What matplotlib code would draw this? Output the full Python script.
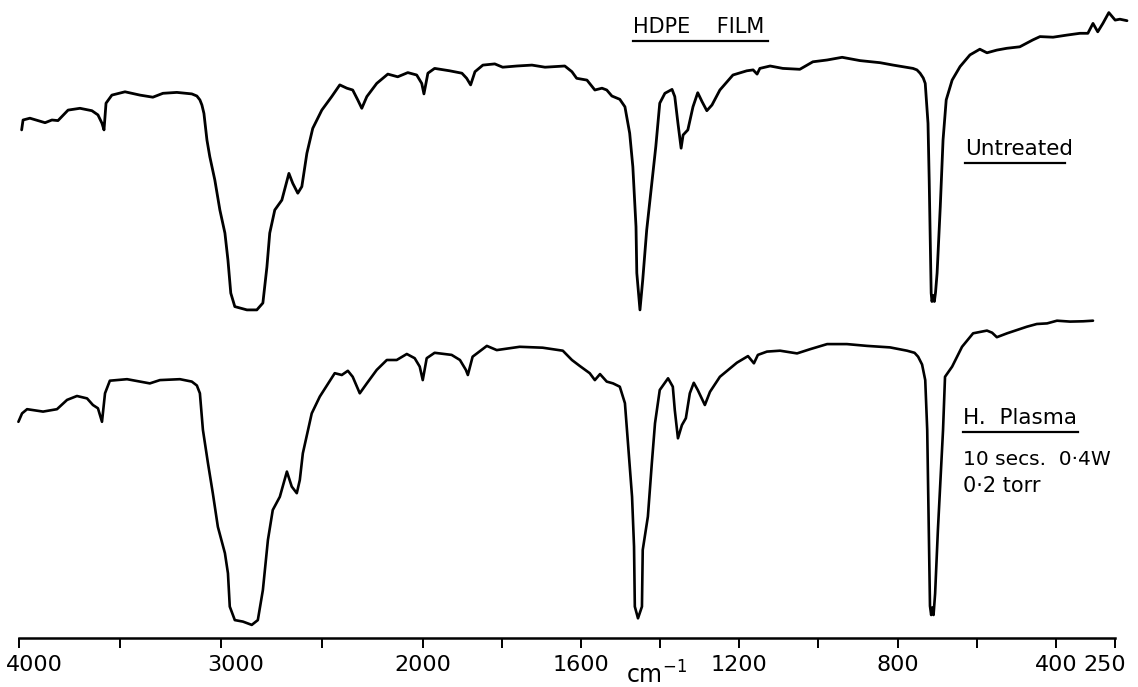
import numpy as np
import matplotlib
matplotlib.use("Agg")
from matplotlib import pyplot as plt
from matplotlib.lines import Line2D
from matplotlib.transforms import ScaledTranslation

# wavenumber (cm-1) / transmittance readings, untreated film
wn_untreated = [3987, 3980, 3946, 3871, 3837, 3807, 3757, 3698, 3639, 3609, 3589, 3579, 3569, 3540,
                3475, 3401, 3337, 3287, 3218, 3144, 3119, 3104, 3094, 3084, 3069, 3055, 3030, 3005,
                2980, 2965, 2951, 2931, 2871, 2822, 2792, 2772, 2758, 2733, 2698, 2663, 2644, 2619,
                2599, 2574, 2545, 2500, 2451, 2411, 2376, 2347, 2322, 2302, 2277, 2228, 2173, 2124,
                2074, 2030, 2005, 1997, 1987, 1970, 1932, 1901, 1889, 1879, 1868, 1848, 1818, 1798,
                1762, 1724, 1691, 1641, 1623, 1611, 1585, 1565, 1547, 1535, 1522, 1502, 1489, 1477,
                1469, 1461, 1459, 1451, 1444, 1434, 1423, 1411, 1401, 1388, 1370, 1363, 1355, 1347,
                1342, 1330, 1317, 1305, 1294, 1282, 1269, 1249, 1216, 1181, 1165, 1155, 1148, 1122,
                1090, 1047, 1014, 978, 940, 895, 844, 811, 761, 751, 743, 735, 730, 723, 720, 715,
                713, 710, 707, 704, 700, 692, 685, 677, 662, 642, 617, 592, 574, 549, 524, 491,
                458, 440, 407, 372, 339, 319, 306, 294, 281, 266, 250, 238, 220]
t_untreated = [62.7, 66.0, 66.6, 65.1, 66.0, 65.8, 69.3, 69.9, 69.1, 67.7, 64.9, 62.7, 71.6, 74.3,
               75.4, 74.3, 73.6, 74.9, 75.2, 74.7, 74.0, 72.7, 71.0, 68.2, 59.3, 53.8, 46.0, 36.0,
               28.3, 19.3, 8.3, 3.8, 2.7, 2.7, 5.0, 17.0, 28.3, 36.0, 39.3, 48.2, 44.9, 41.6,
               43.8, 54.9, 63.2, 69.3, 73.8, 77.7, 76.6, 76.0, 72.7, 69.9, 73.8, 78.2, 81.3, 80.4,
               81.8, 81.0, 78.2, 74.7, 81.6, 83.2, 82.4, 81.6, 79.9, 77.7, 82.1, 84.3, 84.7, 83.6,
               84.0, 84.3, 83.6, 84.0, 82.1, 79.9, 79.3, 76.0, 76.6, 76.0, 74.0, 72.9, 70.4, 61.6,
               50.4, 30.4, 15.0, 2.7, 12.7, 29.3, 42.7, 57.1, 71.6, 74.9, 76.2, 73.8, 64.9, 56.6,
               61.0, 62.7, 70.4, 75.1, 72.1, 69.1, 71.0, 76.0, 81.0, 82.4, 82.7, 81.3, 83.2, 84.0,
               83.2, 82.9, 85.4, 86.0, 86.9, 85.8, 85.1, 84.3, 83.2, 82.7, 81.6, 80.0, 78.2, 64.9, 46.0, 8.3,
               5.5, 7.5, 5.5, 8.5, 15.0, 37.1, 59.3, 72.7, 79.3, 83.8, 87.7, 89.6, 88.4, 89.3, 89.9, 90.4,
               92.7, 93.8, 93.6, 94.3, 94.9, 94.9, 98.2, 95.4, 98.2, 101.8, 99.3, 99.6, 99.1]

# H plasma treated film (10 s, 0.4 W, 0.2 torr)
wn_plasma = [4003, 3985, 3960, 3881, 3812, 3762, 3713, 3663, 3634, 3609, 3589, 3574, 3550, 3465,
             3352, 3302, 3203, 3144, 3119, 3104, 3089, 3064, 3040, 3015, 2980, 2965, 2956, 2931, 2891,
             2847, 2817, 2792, 2767, 2743, 2708, 2673, 2649, 2624, 2609, 2594, 2550, 2510, 2436,
             2401, 2371, 2347, 2312, 2277, 2228, 2178, 2129, 2079, 2040, 2015, 2000, 1990, 1970,
             1927, 1906, 1891, 1886, 1874, 1838, 1813, 1755, 1697, 1646, 1623, 1603, 1578, 1565,
             1552, 1535, 1519, 1502, 1489, 1482, 1471, 1466, 1464, 1456, 1446, 1444, 1431, 1421,
             1413, 1401, 1380, 1368, 1363, 1355, 1345, 1335, 1325, 1315, 1305, 1287, 1274, 1249,
             1206, 1178, 1163, 1153, 1130, 1097, 1054, 1021, 978, 928, 877, 819, 776, 757, 748,
             738, 730, 725, 721, 718, 715, 712, 709, 705, 698, 685, 680, 662, 637, 609,
             574, 561, 549, 523, 498, 473, 448, 422, 397, 364, 331, 306]
t_plasma = [69.4, 72.2, 73.6, 72.8, 73.6, 76.7, 78.0, 77.2, 75.0, 73.9, 69.4, 78.9, 83.1, 83.6,
            82.2, 83.3, 83.6, 82.8, 81.5, 78.9, 66.7, 55.6, 45.6, 34.4, 25.6, 18.9, 7.8, 3.3, 2.8,
            1.7, 3.3, 13.3, 30.0, 40.0, 44.4, 52.8, 47.8, 45.6, 50.0, 58.9, 72.2, 77.8, 85.6,
            85.0, 86.4, 84.4, 78.9, 82.2, 86.7, 90.0, 90.0, 92.0, 90.6, 87.8, 83.3, 90.6, 92.4,
            91.7, 90.0, 86.7, 85.0, 91.1, 94.7, 93.3, 94.4, 94.1, 93.1, 90.0, 88.0, 85.6, 83.3,
            85.3, 82.8, 82.2, 81.1, 75.6, 63.3, 44.4, 27.8, 7.8, 3.9, 7.8, 26.7, 37.8, 55.6,
            68.9, 80.0, 83.9, 81.1, 73.3, 63.9, 68.3, 70.6, 78.9, 82.4, 80.0, 75.0, 79.4, 84.4,
            89.1, 91.3, 88.9, 91.7, 92.8, 93.1, 92.2, 93.6, 95.3, 95.3, 94.7, 94.2, 93.1, 92.4, 91.1,
            88.5, 83.3, 66.7, 33.3, 8.0, 5.0, 7.5, 5.0, 12.2, 33.3, 66.7, 84.4, 87.8, 94.4, 98.9,
            99.8, 99.1, 97.6, 98.9, 100.0, 101.1, 102.0, 102.2, 103.1, 102.8, 102.9, 103.1]

major_ticks = [4000, 3000, 2000, 1600, 1200, 800, 400, 250]
minor_ticks = [3500, 2500, 1800, 1400, 1000, 600]
trace_offset = 104   # untreated trace is stacked above the treated one

# grating change at 2000 cm-1: scale roughly doubles below it
K = 1.96


def fwd(w):
    w = np.asarray(w, dtype=float)
    return np.where(w >= 2000, w, 2000 - K * (2000 - w))


def inv(u):
    u = np.asarray(u, dtype=float)
    return np.where(u >= 2000, u, 2000 - (2000 - u) / K)


plt.rcParams['font.family'] = ['DejaVu Sans']

fig = plt.figure(figsize=(11.38, 6.87), dpi=100)
ax = fig.add_axes([17 / 1138, 49 / 687, (1129 - 17) / 1138, 1 - 49 / 687])
ax.set_xscale('function', functions=(fwd, inv))

ax.plot(wn_untreated, np.array(t_untreated) + trace_offset, color='black', lw=2.0,
        solid_joinstyle='round', solid_capstyle='round')
ax.plot(wn_plasma, t_plasma, color='black', lw=1.9, solid_joinstyle='round',
        solid_capstyle='round')

ax.set_xlim(4010, 215)
ax.set_ylim(-2.67, 210)

for s in ['left', 'right', 'top']:
    ax.spines[s].set_visible(False)
ax.spines['bottom'].set_bounds(4000, 250)
ax.spines['bottom'].set_linewidth(1.8)
ax.set_yticks([])

ax.set_xticks(major_ticks)
ax.set_xticklabels([str(t) for t in major_ticks])
ax.set_xticks(minor_ticks, minor=True)
ax.tick_params(axis='x', which='both', direction='out', length=7, width=1.4, pad=5,
               labelsize=16)

# hand-lettered labels sit a little off their ticks at the ends
shifts = {'4000': 15, '3000': 15, '250': -10}
for lab in ax.get_xticklabels():
    dx = shifts.get(lab.get_text(), 0)
    if dx:
        lab.set_transform(lab.get_transform() + ScaledTranslation(dx / 100, 0, fig.dpi_scale_trans))

fig.text(656 / 1138, 1 - 684 / 687, 'cm$^{-1}$', fontsize=17, ha='center', va='baseline')

W, H = 1138, 687


def label(x, y, s, size, ul=None):
    fig.text(x / W, 1 - y / H, s, fontsize=size, ha='left', va='baseline')
    if ul:
        fig.add_artist(Line2D([x / W, ul / W], [1 - (y + 8) / H] * 2, color='black', lw=1.6))


label(633, 33, 'HDPE    FILM', 15, ul=768)
label(965, 155, 'Untreated', 15.5, ul=1065)
label(963, 424, 'H.  Plasma', 15.5, ul=1078)
label(963, 465, '10 secs.  0\u00b74W', 14.5)
label(963, 492, '0\u00b72 torr', 15)

fig.savefig('out.png', dpi=100, facecolor='white')
